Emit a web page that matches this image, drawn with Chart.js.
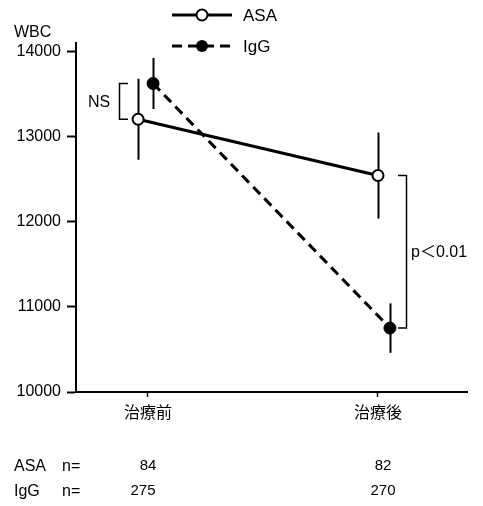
<!DOCTYPE html>
<html>
<head>
<meta charset="utf-8">
<script src="https://cdn.jsdelivr.net/npm/chart.js@4/dist/chart.umd.min.js"></script>
<style>
    html, body { margin: 0; padding: 0; background: #fff; }
    #wrap { width: 483px; height: 506px; }
</style>
</head>
<body>
<div id="wrap"><canvas id="wbcChart" width="483" height="506"></canvas></div>
<script>
const categories = ['治療前', '治療後'];
const asaMean = [13200, 12540];
const asaErr = [475, 505];
const iggMean = [13620, 10750];
const iggErr = [300, 290];
const asaN = [84, 82];
const iggN = [275, 270];
const yTicks = [10000, 11000, 12000, 13000, 14000];
// small horizontal dodge so the two groups don't overlap
const asaShift = [-0.043, 0];
const iggShift = [0.022, 0.052];

const latin = '"Liberation Sans", Arial, "Noto Sans CJK JP", sans-serif';
const cjk = '"Noto Sans CJK JP", sans-serif';

function toPoints(means, shift) {
    return categories.map((c, i) => ({ x: i + shift[i], y: means[i] }));
}

const errorBars = {
    id: 'errorBars',
    beforeDatasetsDraw(chart) {
        const ctx = chart.ctx;
        const xs = chart.scales.x;
        const ys = chart.scales.y;
        const sets = [[asaMean, asaErr, asaShift], [iggMean, iggErr, iggShift]];
        ctx.save();
        ctx.strokeStyle = '#000';
        ctx.lineWidth = 2;
        sets.forEach(([m, e, s]) => {
            m.forEach((v, i) => {
                const px = Math.round(xs.getPixelForValue(i + s[i])) + 0.5;
                ctx.beginPath();
                ctx.moveTo(px, ys.getPixelForValue(v + e[i]));
                ctx.lineTo(px, ys.getPixelForValue(v - e[i]));
                ctx.stroke();
            });
        });
        ctx.restore();
    }
};

const extras = {
    id: 'extras',
    afterDraw(chart) {
        const ctx = chart.ctx;
        const xs = chart.scales.x;
        const ys = chart.scales.y;
        ctx.save();
        ctx.fillStyle = '#000';
        ctx.strokeStyle = '#000';

        // legend
        ctx.lineWidth = 3;
        ctx.beginPath();
        ctx.moveTo(172, 15);
        ctx.lineTo(232, 15);
        ctx.stroke();
        ctx.setLineDash([10, 6]);
        ctx.beginPath();
        ctx.moveTo(172, 46);
        ctx.lineTo(232, 46);
        ctx.stroke();
        ctx.setLineDash([]);
        ctx.lineWidth = 2;
        ctx.beginPath();
        ctx.arc(202, 15, 5.5, 0, Math.PI * 2);
        ctx.fillStyle = '#fff';
        ctx.fill();
        ctx.stroke();
        ctx.fillStyle = '#000';
        ctx.beginPath();
        ctx.arc(202, 46, 6, 0, Math.PI * 2);
        ctx.fill();
        ctx.font = '17px ' + latin;
        ctx.textBaseline = 'middle';
        ctx.textAlign = 'left';
        ctx.fillText('ASA', 243, 16);
        ctx.fillText('IgG', 243, 47);

        // y axis title
        ctx.font = '16px ' + latin;
        ctx.fillText('WBC', 14, 33);

        // NS bracket
        ctx.lineWidth = 1.5;
        const nsTop = ys.getPixelForValue(iggMean[0]);
        const nsBot = ys.getPixelForValue(asaMean[0]);
        ctx.beginPath();
        ctx.moveTo(128, nsTop);
        ctx.lineTo(119.5, nsTop);
        ctx.lineTo(119.5, nsBot);
        ctx.lineTo(128, nsBot);
        ctx.stroke();
        ctx.font = '16px ' + latin;
        ctx.fillText('NS', 88, (nsTop + nsBot) / 2 + 1);

        // p bracket
        const pTop = ys.getPixelForValue(asaMean[1]);
        const pBot = ys.getPixelForValue(iggMean[1]);
        ctx.beginPath();
        ctx.moveTo(398, pTop);
        ctx.lineTo(406.5, pTop);
        ctx.lineTo(406.5, pBot);
        ctx.lineTo(398, pBot);
        ctx.stroke();
        ctx.font = '16px ' + latin;
        ctx.fillText('p＜0.01', 411, (pTop + pBot) / 2 + 1);

        // n table
        ctx.font = '16px ' + latin;
        ctx.fillText('ASA', 14, 467);
        ctx.fillText('n=', 62, 467);
        ctx.fillText('IgG', 14, 492);
        ctx.fillText('n=', 62, 492);
        ctx.font = '15px ' + latin;
        ctx.textAlign = 'center';
        categories.forEach((c, i) => {
            const cx = xs.getPixelForValue(i);
            ctx.fillText(String(asaN[i]), cx + (i ? 5 : 0), 466);
            ctx.fillText(String(iggN[i]), cx + (i ? 5 : -5), 491);
        });
        ctx.restore();
    }
};

const ctx = document.getElementById('wbcChart').getContext('2d');
new Chart(ctx, {
    type: 'line',
    data: {
        datasets: [
            {
                label: 'ASA',
                data: toPoints(asaMean, asaShift),
                borderColor: '#000',
                borderWidth: 3,
                pointRadius: 5.5,
                pointBorderWidth: 2,
                pointBackgroundColor: '#fff',
                pointBorderColor: '#000',
                order: 1
            },
            {
                label: 'IgG',
                data: toPoints(iggMean, iggShift),
                borderColor: '#000',
                borderWidth: 3,
                borderDash: [10, 6],
                pointRadius: 6,
                pointBorderWidth: 1,
                pointBackgroundColor: '#000',
                pointBorderColor: '#000',
                order: 2
            }
        ]
    },
    options: {
        responsive: false,
        animation: false,
        layout: { padding: { top: 43, right: 16, left: 0, bottom: 0 } },
        plugins: {
            legend: { display: false },
            tooltip: { enabled: false }
        },
        scales: {
            x: {
                type: 'linear',
                min: -0.313,
                max: 1.387,
                afterBuildTicks(scale) {
                    scale.ticks = categories.map((c, i) => ({ value: i }));
                },
                afterFit(scale) { scale.height = 114; },
                ticks: {
                    callback: (v) => categories[v],
                    color: '#000',
                    font: { family: cjk, size: 16 },
                    padding: 5
                },
                grid: {
                    drawOnChartArea: false,
                    tickLength: 5,
                    tickColor: '#000',
                    tickWidth: 1.5
                },
                border: { color: '#000', width: 2 }
            },
            y: {
                min: 10000,
                max: 14095,
                afterBuildTicks(scale) {
                    scale.ticks = yTicks.map(v => ({ value: v }));
                },
                afterFit(scale) { scale.width = 76; },
                ticks: {
                    callback: (v) => String(v),
                    color: '#000',
                    font: { family: latin, size: 16 },
                    padding: 6
                },
                grid: {
                    drawOnChartArea: false,
                    tickLength: 9,
                    tickColor: '#000',
                    tickWidth: 2
                },
                border: { color: '#000', width: 2 }
            }
        }
    },
    plugins: [errorBars, extras]
});
</script>
</body>
</html>
